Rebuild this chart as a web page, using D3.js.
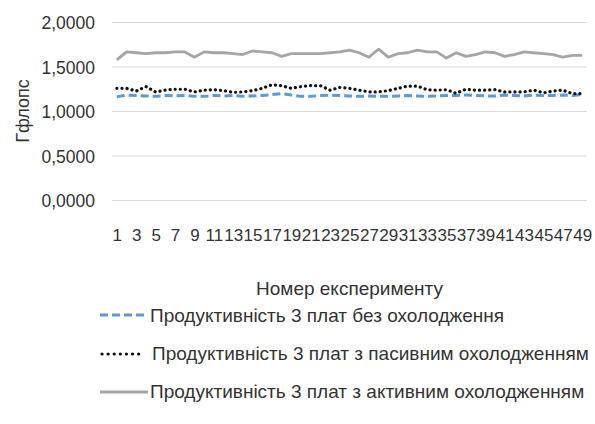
<!DOCTYPE html>
<html><head><meta charset="utf-8">
<script src="https://cdn.jsdelivr.net/npm/d3@7"></script>
<style>body{margin:0;background:#fff}svg{display:block}text{font-family:"Liberation Sans",Arial,sans-serif;fill:#333}</style>
</head><body>
<svg id="chart" width="595" height="424"></svg>
<script>
const categories = d3.range(1, 50);
const noCooling = [1.165,1.185,1.18,1.175,1.17,1.18,1.175,1.18,1.17,1.17,1.18,1.175,1.18,1.17,1.175,1.18,1.19,1.20,1.185,1.17,1.17,1.18,1.185,1.18,1.175,1.17,1.175,1.17,1.17,1.175,1.18,1.175,1.17,1.175,1.18,1.18,1.185,1.18,1.175,1.175,1.185,1.18,1.175,1.185,1.18,1.18,1.185,1.18,1.19];
const passiveCooling = [1.26,1.26,1.23,1.28,1.22,1.24,1.25,1.25,1.22,1.24,1.245,1.235,1.215,1.22,1.235,1.26,1.30,1.29,1.26,1.28,1.29,1.29,1.24,1.27,1.26,1.24,1.22,1.22,1.235,1.26,1.285,1.285,1.245,1.24,1.245,1.205,1.25,1.24,1.24,1.245,1.22,1.22,1.22,1.24,1.21,1.23,1.24,1.20,1.20];
const activeCooling = [1.58,1.67,1.66,1.65,1.66,1.66,1.67,1.67,1.61,1.67,1.66,1.66,1.65,1.64,1.68,1.67,1.66,1.62,1.65,1.65,1.65,1.65,1.66,1.67,1.69,1.66,1.61,1.70,1.61,1.65,1.66,1.69,1.67,1.67,1.60,1.66,1.62,1.64,1.67,1.66,1.62,1.64,1.67,1.66,1.65,1.64,1.61,1.63,1.63];
const yTicks = [0, 0.5, 1.0, 1.5, 2.0];
const xTickLabels = categories.filter(d => d % 2 === 1);
const seriesNames = ["Продуктивність 3 плат без охолодження","Продуктивність 3 плат з пасивним охолодженням","Продуктивність 3 плат з активним охолодженням"];
const yTitle = "Гфлопс";
const xTitle = "Номер експерименту";

const svg = d3.select("#chart");
const L = 112, R = 587, T = 22.5, B = 200.5;
const x = d3.scalePoint().domain(categories).range([L, R]).padding(0.5);
const y = d3.scaleLinear().domain([0, 2]).range([B, T]);
const fmt = v => d3.format(".4f")(v).replace(".", ",");

// grid
svg.append("g").selectAll("line").data(yTicks).join("line")
  .attr("x1", L).attr("x2", R).attr("y1", d => y(d)).attr("y2", d => y(d))
  .attr("stroke", "#d9d9d9").attr("stroke-width", 1.2);

// y axis labels
const yAxis = d3.axisLeft(y).tickValues(yTicks).tickFormat(fmt).tickSize(0).tickPadding(0);
const yg = svg.append("g").attr("transform", "translate(95,0)").call(yAxis);
yg.select(".domain").remove();
yg.selectAll("text").style("font-size", "17.5px").attr("fill", "#333").attr("dy", "0.35em");

// x axis labels
const xAxis = d3.axisBottom(x).tickValues(xTickLabels).tickSize(0).tickPadding(0);
const xg = svg.append("g").attr("transform", "translate(0,229)").call(xAxis);
xg.select(".domain").remove();
xg.selectAll("text").style("font-size", "17px").attr("fill", "#333").attr("dy", "0.71em");

// titles
svg.append("text").attr("transform", "translate(29,111) rotate(-90)").attr("text-anchor", "middle")
  .style("font-size", "18px").text(yTitle);
svg.append("text").attr("x", (L + R) / 2).attr("y", 295).attr("text-anchor", "middle")
  .style("font-size", "19px").text(xTitle);

const styles = [
  {color: "#5b9bd5", dash: "8,4", width: 3, cap: "butt"},
  {color: "#111", dash: "0.1,5", width: 3.2, cap: "round"},
  {color: "#a5a5a5", dash: null, width: 2.8, cap: "butt"}
];
const data = [noCooling, passiveCooling, activeCooling];
const line = d3.line().x((d, i) => x(categories[i])).y(d => y(d));
[2, 0, 1].forEach(k => {
  svg.append("path").datum(data[k]).attr("d", line).attr("fill", "none")
    .attr("stroke", styles[k].color).attr("stroke-width", styles[k].width)
    .attr("stroke-dasharray", styles[k].dash)
    .attr("stroke-linecap", styles[k].cap).attr("stroke-linejoin", "round");
});

// legend
const legY = [315, 354, 392];
const legText = [322, 360, 398];
const legX1 = [100, 102, 100], legX2 = [148, 140, 148], txtX = [150, 152, 150];
seriesNames.forEach((n, k) => {
  svg.append("line").attr("x1", legX1[k]).attr("x2", legX2[k]).attr("y1", legY[k]).attr("y2", legY[k])
    .attr("stroke", styles[k].color).attr("stroke-width", styles[k].width)
    .attr("stroke-dasharray", k === 1 ? "0.1,6" : styles[k].dash).attr("stroke-linecap", styles[k].cap);
  svg.append("text").attr("x", txtX[k]).attr("y", legText[k]).style("font-size", "19px").text(n);
});
</script>
</body></html>
